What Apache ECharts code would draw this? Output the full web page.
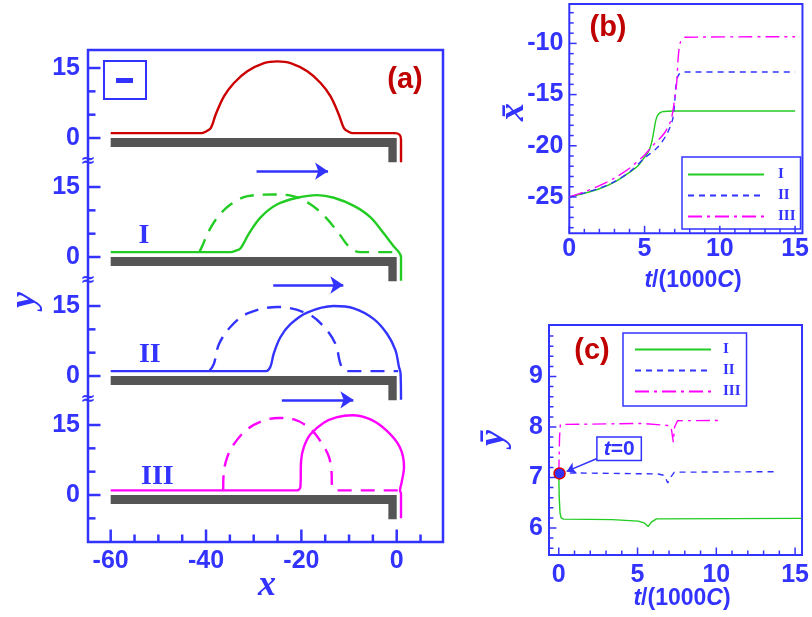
<!DOCTYPE html>
<html>
<head>
<meta charset="utf-8">
<script src="https://cdn.jsdelivr.net/npm/echarts@6/dist/echarts.min.js"></script>
<style>html,body{margin:0;padding:0;background:#fff}#main{width:812px;height:617px}</style>
</head>
<body>
<div id="main"></div>
<script>
const BLUE = '#3333ff', GREEN = '#22cc22', MAGENTA = '#ff00ff', RED = '#cc0000', DARKRED = '#c00000', GREY = '#555555';

// panel (a): four stacked profiles, each shifted by its offset on one y axis
const panelOffsets = [76.5, 51, 25.5, 0];
const substrateShape = [[-60, 0], [0, 0], [0, -5.2], [-1.75, -5.2], [-1.75, -1.95], [-60, -1.95]];

const profileTop = [[-60,1.05],[-41.0,1.05],[-40.2,1.3],[-39.0,2.14],[-37.99,5.0],[-36.24,8.93],[-34.14,11.8],[-31.34,14.3],[-27.85,16.07],[-25.05,16.43],[-22.26,16.07],[-18.76,14.3],[-15.97,11.8],[-13.88,8.93],[-12.13,5.0],[-11.08,2.14],[-10.0,1.3],[-9.2,1.05],[-0.4,1.05],[0.6,0.7],[0.9,-0.3],[0.9,-5.2]];
const profileISolid = [[-60,1.05],[-34.8,1.05],[-33.9,1.3],[-32.75,1.88],[-31.0,5.02],[-28.55,8.51],[-25.05,11.3],[-20.86,12.7],[-16.67,13.26],[-13.17,12.7],[-8.98,10.96],[-5.49,8.51],[-2.69,5.02],[-0.6,2.23],[0.44,1.05],[0.9,0],[0.9,-5.1]];
const profileIDashed = [[-41.4,1.05],[-40.6,2.8],[-39.7,5.0],[-37.6,8.5],[-34.8,11.3],[-31.3,13.05],[-25.8,13.4],[-21.6,13.0],[-18.1,11.3],[-14.9,8.5],[-12.1,5.0],[-9.7,1.9],[-7.6,1.05],[0.3,1.05]];
const profileIISolid = [[-60,1.05],[-27.4,1.05],[-26.5,1.97],[-25.8,4.8],[-24.4,8.3],[-22.3,11.1],[-18.8,13.6],[-13.2,15.0],[-9.0,14.5],[-4.8,12.2],[-2.0,9.0],[-0.25,5.5],[0.46,2.0],[0.8,0.6],[0.9,-5.1]];
const profileIIDashed = [[-39.3,1.05],[-38.35,2.6],[-37.3,6.8],[-34.8,10.6],[-31.3,13.4],[-25.05,14.8],[-18.8,13.4],[-15.3,10.6],[-12.8,6.8],[-11.8,2.6],[-10.7,1.05],[0.3,1.05]];
const profileIIISolid = [[-60,1.0],[-20.9,1.0],[-20.2,1.76],[-20.05,7.4],[-19.5,10.2],[-18.1,13.0],[-15.3,15.5],[-12.5,16.7],[-9.35,17.1],[-5.5,16.2],[-2.0,13.7],[0.69,10.2],[1.53,6.0],[1.05,2.8],[0.69,1.0],[0.9,0.3],[0.9,-5.0]];
const profileIIIDashed = [[-36.4,1.2],[-36.3,4.6],[-35.55,8.1],[-34.15,10.9],[-31.35,14.1],[-27.85,16.0],[-24.7,16.5],[-21.55,16.2],[-18.05,14.1],[-15.6,10.9],[-14.2,8.1],[-13.65,4.6],[-13.6,2.2],[-12.8,1.0],[0.3,1.0]];

const aXRange = [-64.76, 9.71], aYRange = [-10.07, 95.36];
const aXMajor = [-60, -40, -20, 0];
const aXMinor = [-55, -50, -45, -35, -30, -25, -15, -10, -5, 5];
const aYMajor = [0, 15, 25.5, 40.5, 51, 66, 76.5, 91.5];
const aYMajorLabels = ['0', '15', '0', '15', '0', '15', '0', '15'];
const aYMinor = [-5, 5, 10, 30.5, 35.5, 56, 61, 81.5, 86.5];
const aBreaks = [71.6, 46.1, 20.6];
const caseNames = ['I', 'II', 'III'];
const caseLabelPos = [[-53.0, 55.6], [-51.8, 30.0], [-50.2, 3.9]];
const arrowPos = [[-29.4, -14.4, 69.4], [-25.9, -11.2, 45.0], [-24.1, -9.1, 20.4]];

// panel (b): mean x against t/(1000C)
const bGreen = [[0,-25],[1,-24.65],[2,-24.2],[3,-23.55],[4,-22.6],[4.6,-21.9],[5.0,-21.1],[5.25,-20.6],[5.45,-19.8],[5.6,-18.7],[5.75,-17.5],[5.9,-16.95],[6.2,-16.67],[7,-16.6],[15,-16.6]];
const bBlue = [[0,-25],[1,-24.6],[2,-24.15],[3,-23.5],[4,-22.55],[5,-21.2],[5.9,-20.1],[6.5,-18.8],[6.85,-17.5],[6.98,-16.2],[7.08,-14.2],[7.25,-13.1],[7.6,-12.8],[15,-12.8]];
const bMagenta = [[0,-25],[1,-24.5],[2,-23.9],[3,-23.15],[4,-22.2],[5,-20.9],[5.5,-20.05],[6.3,-18.8],[6.75,-17.5],[6.96,-15.85],[7.13,-13.9],[7.24,-11.3],[7.39,-9.85],[7.7,-9.4],[15,-9.35]];
const bXRange = [0, 15.49], bYRange = [-28.55, -6.15];
const bXMajor = [0, 5, 10, 15];
const bXMinor = [1, 2, 3, 4, 6, 7, 8, 9, 11, 12, 13, 14];
const bYMajor = [-25, -20, -15, -10];
const bYMinor = [-28, -27, -26, -24, -23, -22, -21, -19, -18, -17, -16, -14, -13, -12, -11, -9, -8, -7];

// panel (c): mean y against t/(1000C)
const cGreen = [[0,7.08],[0.03,6.6],[0.08,6.3],[0.15,6.2],[0.3,6.175],[2,6.17],[3.4,6.165],[5.05,6.135],[5.45,6.095],[5.67,6.03],[5.88,6.115],[6.2,6.18],[15.4,6.19]];
const cBlue = [[0,7.08],[1,7.09],[6.3,7.07],[6.7,7.04],[6.92,6.89],[7.09,7.0],[7.34,7.105],[13.7,7.115]];
const cMagenta = [[0,7.08],[0.05,7.8],[0.1,8.05],[0.2,8.075],[5.3,8.07],[6.9,8.03],[7.13,8.0],[7.27,7.7],[7.35,8.0],[7.54,8.125],[10.3,8.13]];
const cStart = [0.05, 7.08];
const cXRange = [-0.62, 15.44], cYRange = [5.465, 10.02];
const cXMajor = [0, 5, 10, 15];
const cXMinor = [1, 2, 3, 4, 6, 7, 8, 9, 11, 12, 13, 14];
const cYMajor = [6, 7, 8, 9];
const cYMinor = [5.6, 5.8, 6.2, 6.4, 6.6, 6.8, 7.2, 7.4, 7.6, 7.8, 8.2, 8.4, 8.6, 8.8, 9.2, 9.4, 9.6, 9.8];

const grids = [
    { left: 88, top: 50, width: 355, height: 492, show: true, borderColor: BLUE, borderWidth: 2.5, backgroundColor: 'transparent' },
    { left: 569.3, top: 4, width: 239, height: 229.3, show: true, borderColor: BLUE, borderWidth: 2, backgroundColor: 'transparent' },
    { left: 549, top: 325, width: 257.7, height: 230, show: true, borderColor: BLUE, borderWidth: 2, backgroundColor: 'transparent' }
];

const myChart = echarts.init(document.getElementById('main'));

const tickFont = { color: BLUE, fontSize: 25, fontWeight: 'bold', fontFamily: 'Liberation Sans' };

function makeAxis(kind, grid, range, major, margin, fmt) {
    return {
        type: 'value', gridIndex: grid, min: range[0], max: range[1],
        position: kind === 'x' ? 'bottom' : 'left',
        axisLine: { show: false, onZero: false },
        axisTick: { show: false },
        splitLine: { show: false },
        axisLabel: Object.assign({ customValues: major, margin: margin, formatter: fmt }, tickFont)
    };
}

// inward ticks on the bottom and left frame: one short line series per tick
function tickSeries(g, xr, yr, xMajor, xMinor, yMajor, yMinor, long, short, width) {
    const ux = (xr[1] - xr[0]) / grids[g].width;   // data units per pixel
    const uy = (yr[1] - yr[0]) / grids[g].height;
    const x0 = xr[0] + 0.5 * ux, y0 = yr[0] + 0.5 * uy;
    const segs = [].concat(
        xMajor.map(v => [[v, y0], [v, y0 + long * uy]]),
        xMinor.map(v => [[v, y0], [v, y0 + short * uy]]),
        yMajor.map(v => [[x0, v], [x0 + long * ux, v]]),
        yMinor.map(v => [[x0, v], [x0 + short * ux, v]])
    );
    return segs.map(s => ({
        type: 'line', xAxisIndex: g, yAxisIndex: g, data: s, z: 4,
        symbol: 'none', silent: true, clip: false, animation: false,
        lineStyle: { color: BLUE, width: width, type: 'solid' }
    }));
}

function profile(name, pts, off, color, dashed) {
    return {
        name: name, type: 'line', xAxisIndex: 0, yAxisIndex: 0,
        data: pts.map(p => [p[0], p[1] + off]),
        symbol: 'none', smooth: 0.35, z: 3, silent: true, clip: false,
        lineStyle: { color: color, width: 2.4, type: dashed ? [14, 9] : 'solid' }
    };
}

function curve(name, data, ai, color, type, smooth) {
    return {
        name: name, type: 'line', xAxisIndex: ai, yAxisIndex: ai, data: data,
        symbol: 'none', smooth: smooth, z: 3, silent: true,
        lineStyle: { color: color, width: 1.4, type: type }, itemStyle: { color: color }
    };
}

const DASH = [6, 5], DASHDOT = [14, 5, 3, 5];

const topSeries = profile('top', profileTop, panelOffsets[0], RED, false);
topSeries.markLine = {
    silent: true, symbol: ['none', 'arrow'], symbolSize: 13,
    label: { show: false },
    lineStyle: { color: BLUE, width: 2.5, type: 'solid' },
    data: arrowPos.map(a => [{ coord: [a[0], a[2]] }, { coord: [a[1], a[2]] }])
};
topSeries.markPoint = {
    silent: true, symbol: 'rect', symbolSize: 1, itemStyle: { color: 'rgba(0,0,0,0)' },
    data: caseNames.map((n, i) => ({
        name: n, coord: caseLabelPos[i],
        label: { show: true, position: 'inside', formatter: '{b}', color: BLUE, fontSize: 28, fontWeight: 'bold', fontFamily: 'Liberation Serif' }
    })).concat(aBreaks.map(b => ({
        name: 'brk', coord: [aXRange[0], b],
        label: { show: true, position: 'inside', formatter: '\u2248', color: BLUE, fontSize: 18, fontWeight: 'bold', fontFamily: 'DejaVu Sans' }
    })))
};

const seriesA = [
    {
        type: 'custom', xAxisIndex: 0, yAxisIndex: 0, z: 2, silent: true,
        data: panelOffsets.map(o => [-60, o]),
        renderItem: function (params, api) {
            const off = api.value(1);
            return {
                type: 'polygon',
                shape: { points: substrateShape.map(p => api.coord([p[0], p[1] + off])) },
                style: { fill: GREY }
            };
        }
    },
    topSeries,
    profile('I dashed', profileIDashed, panelOffsets[1], GREEN, true),
    profile('I solid', profileISolid, panelOffsets[1], GREEN, false),
    profile('II dashed', profileIIDashed, panelOffsets[2], BLUE, true),
    profile('II solid', profileIISolid, panelOffsets[2], BLUE, false),
    profile('III dashed', profileIIIDashed, panelOffsets[3], MAGENTA, true),
    profile('III solid', profileIIISolid, panelOffsets[3], MAGENTA, false)
].concat(tickSeries(0, aXRange, aYRange, aXMajor, aXMinor, aYMajor, aYMinor, 12, 7, 2.5));

const seriesB = [
    curve('I', bGreen, 1, GREEN, 'solid', 0.3),
    curve('II', bBlue, 1, BLUE, DASH, 0.3),
    curve('III', bMagenta, 1, MAGENTA, DASHDOT, 0.3)
].concat(tickSeries(1, bXRange, bYRange, bXMajor, bXMinor, bYMajor, bYMinor, 7, 4, 1.5));

const seriesC = [
    curve('I', cGreen, 2, GREEN, 'solid', false),
    curve('II', cBlue, 2, BLUE, DASH, false),
    curve('III', cMagenta, 2, MAGENTA, DASHDOT, false),
    {
        name: 'start', type: 'scatter', xAxisIndex: 2, yAxisIndex: 2, z: 5, silent: true,
        data: [cStart], symbol: 'circle', symbolSize: 11,
        itemStyle: { color: BLUE, borderColor: '#e00000', borderWidth: 1.5, opacity: 1 },
        markLine: {
            silent: true, symbol: ['none', 'arrow'], symbolSize: 9,
            label: { show: false },
            lineStyle: { color: BLUE, width: 1.5, type: 'solid' },
            data: [[{ coord: [2.43, 7.376] }, { coord: [0.5, 7.12] }]]
        },
        markPoint: {
            silent: true, symbol: 'rect', symbolSize: 1, itemStyle: { color: 'rgba(0,0,0,0)' },
            data: [{
                name: 't=0', coord: [3.83, 7.57],
                label: {
                    show: true, position: 'inside', formatter: '{i|t}{n|=0}',
                    backgroundColor: '#fff', borderColor: BLUE, borderWidth: 1.5, padding: [1, 6, 0, 6],
                    rich: {
                        i: { color: BLUE, fontSize: 21, fontWeight: 'bold', fontStyle: 'italic', fontFamily: 'Liberation Sans' },
                        n: { color: BLUE, fontSize: 21, fontWeight: 'bold', fontFamily: 'Liberation Sans' }
                    }
                }
            }]
        }
    }
].concat(tickSeries(2, cXRange, cYRange, cXMajor, cXMinor, cYMajor, cYMinor, 7, 4, 1.5));

const legendText = { color: BLUE, fontSize: 15, fontWeight: 'bold', fontFamily: 'Liberation Serif', lineHeight: 14 };

function nameText(text, x, y, rot, size) {
    return {
        type: 'text', x: x, y: y, rotation: rot, z: 10, silent: true,
        style: {
            text: text, fill: BLUE, align: 'center', verticalAlign: 'middle',
            font: 'italic bold ' + size + 'px "Liberation Serif"'
        }
    };
}
function timeLabel(x, y) {
    const it = { fill: BLUE, fontSize: 23, fontWeight: 'bold', fontStyle: 'italic', fontFamily: 'Liberation Sans' };
    const nm = { fill: BLUE, fontSize: 23, fontWeight: 'bold', fontFamily: 'Liberation Sans' };
    return {
        type: 'text', x: x, y: y, z: 10, silent: true,
        style: { text: '{i|t}{n|/(1000}{i|C}{n|)}', rich: { i: it, n: nm }, align: 'center', verticalAlign: 'middle' }
    };
}
function panelTag(text, x, y) {
    return {
        type: 'text', x: x, y: y, z: 10, silent: true,
        style: { text: text, fill: DARKRED, align: 'center', verticalAlign: 'middle', font: 'bold 29px "Liberation Sans"' }
    };
}

const option = {
    animation: false,
    grid: grids,
    xAxis: [
        makeAxis('x', 0, aXRange, aXMajor, 7),
        makeAxis('x', 1, bXRange, bXMajor, 3),
        makeAxis('x', 2, cXRange, cXMajor, 8)
    ],
    yAxis: [
        makeAxis('y', 0, aYRange, aYMajor, 8, v => aYMajorLabels[aYMajor.indexOf(v)]),
        makeAxis('y', 1, bYRange, bYMajor, 6),
        makeAxis('y', 2, cYRange, cYMajor, 6)
    ],
    legend: [
        {
            data: caseNames, orient: 'vertical', left: 682, top: 157, selectedMode: false,
            itemWidth: 76, itemHeight: 14, itemGap: 6, padding: [10, 5, 5, 5],
            itemStyle: { opacity: 0 },
            borderColor: BLUE, borderWidth: 1.5, backgroundColor: '#fff',
            textStyle: Object.assign({ padding: [0, 0, 0, 9] }, legendText)
        },
        {
            data: caseNames, orient: 'vertical', left: 623, top: 333, selectedMode: false,
            itemWidth: 76, itemHeight: 14, itemGap: 6, padding: [9, 6, 7, 11],
            itemStyle: { opacity: 0 },
            borderColor: BLUE, borderWidth: 1.5, backgroundColor: '#fff',
            textStyle: Object.assign({ padding: [0, 0, 0, 7] }, legendText)
        }
    ],
    graphic: {
        elements: [
            nameText('y', 25, 300, Math.PI / 2, 36),
            nameText('x', 267, 586, 0, 36),
            nameText('x\u0304', 514, 112, Math.PI / 2, 36),
            nameText('y\u0304', 494, 438, Math.PI / 2, 36),
            timeLabel(693, 281),
            timeLabel(682, 599),
            panelTag('(a)', 405, 80),
            panelTag('(b)', 608, 28),
            panelTag('(c)', 592, 351),
            { type: 'rect', z: 10, silent: true, shape: { x: 104, y: 61, width: 42, height: 38 }, style: { fill: 'transparent', stroke: BLUE, lineWidth: 2 } },
            { type: 'rect', z: 10, silent: true, shape: { x: 116, y: 78, width: 17, height: 5 }, style: { fill: BLUE } }
        ]
    },
    series: seriesA.concat(seriesB, seriesC)
};

option && myChart.setOption(option);
</script>
</body>
</html>
